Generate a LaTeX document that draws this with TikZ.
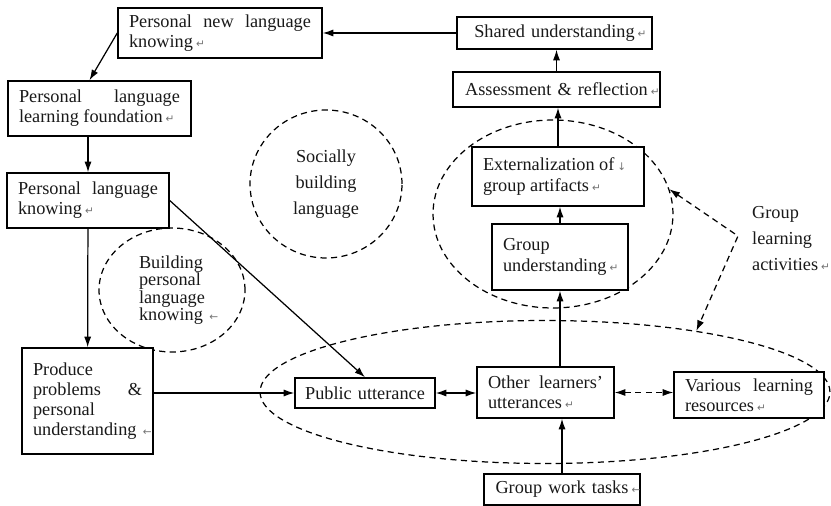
\documentclass[tikz,border=0pt]{standalone}
\usepackage{fontspec}
\setmainfont{Liberation Serif}
\newfontfamily\markfont{DejaVu Sans}
\usetikzlibrary{arrows.meta,shapes.geometric}
\hyphenpenalty=10000
\exhyphenpenalty=10000
\tolerance=10000
\hbadness=10000
\newcommand{\pmark}[1]{\rlap{\,{\markfont\fontsize{6}{6}\selectfont\color{black!55}#1}}}
\tikzset{
  every node/.style={font=\fontsize{10.4}{11.5}\selectfont, text=black!90},
  box/.style 2 args={draw, line width=0.85pt, fill=white, align=justify, inner xsep=0.22cm, inner ysep=0pt, text width=#1, minimum height=#2},
  arr/.style={-{Latex[length=6pt,width=4pt]}, line width=0.7pt},
  dbl/.style={{Latex[length=6pt,width=4pt]}-{Latex[length=6pt,width=4pt]}, line width=0.7pt},
  dline/.style={line width=0.7pt, dash pattern=on 3.5pt off 2.5pt},
  zone/.style={ellipse, draw, dline, inner sep=0pt}
}

\begin{document}
\begin{tikzpicture}[x=0.02cm,y=-0.02cm]
\useasboundingbox (0,0) rectangle (831,506);

\node[zone, minimum width=11.4cm, minimum height=2.86cm] (uell) at (545,392) {};
\node[zone, minimum width=4.8cm, minimum height=3.76cm] (gell) at (553,214) {};
\node[zone, minimum width=3.04cm, minimum height=2.96cm, align=center, font=\fontsize{10.4}{14.7}\selectfont] (social) at (326,184) {Socially\\building\\language};
\node[zone, minimum width=2.92cm, minimum height=2.48cm, align=left, font=\fontsize{10.4}{10}\selectfont] (buildp) at (172,290) {Building\\personal\\language\\knowing\pmark{~←}};

\node[box={3.64cm}{1.0cm}] (pnew) at (220,33) {Personal new language knowing\pmark{↵}};
\node[box={3.46cm}{0.64cm}, align=center] (shared) at (554.5,33) {Shared understanding\pmark{↵}};
\node[box={3.70cm}{0.70cm}, align=center] (assess) at (556.5,89.5) {Assessment \& reflection\pmark{↵}};
\node[box={3.22cm}{1.1cm}] (found) at (99.5,108.5) {Personal language learning foundation\pmark{↵}};
\node[box={2.80cm}{1.1cm}] (pknow) at (88,200.5) {Personal language knowing\pmark{↵}};
\node[box={3.0cm}{1.18cm}] (ext) at (558,176.5) {Externalization of\pmark{↓}\\group artifacts\pmark{↵}};
\node[box={2.28cm}{1.32cm}] (gund) at (560,257) {Group understanding\pmark{↵}};
\node[box={2.18cm}{2.12cm}] (produce) at (87.5,401) {Produce\\problems\hfill\&\\personal\\understanding\pmark{~←}};
\node[box={2.46cm}{0.6cm}, inner xsep=0.17cm, align=center] (public) at (365,393) {Public utterance};
\node[box={2.30cm}{1.02cm}] (others) at (545.5,392.5) {Other learners' utterances\pmark{↵}};
\node[box={2.56cm}{0.92cm}] (various) at (749,395) {Various learning resources\pmark{↵}};
\node[box={2.68cm}{0.62cm}, align=center] (tasks) at (562,489.5) {Group work tasks\pmark{←}};
\node[align=left, font=\fontsize{10.4}{14.7}\selectfont, anchor=west] (glabel) at (746,238.5) {Group\\learning\\activities\pmark{↵}};
\coordinate (bend) at (738,236);

\draw[arr] (shared) -- (pnew);
\draw[arr] (pnew.west) -- ([xshift=-0.2cm]found.north);
\draw[arr] (found.south -| pknow.north) -- (pknow.north);
\draw[arr] (pknow) -- (produce);
\draw[arr] (pknow.east) -- (public.north);
\draw[arr] (produce.east |- public.west) -- (public.west);
\draw[dbl] (public.east) -- (public.east -| others.west);
\draw[dbl, dline] (others.east) -- (others.east -| various.west);
\draw[arr] (tasks.north) -- (tasks.north |- others.south);
\draw[arr] (gund.south |- others.north) -- (gund.south);
\draw[arr] (gund.north) -- (gund.north |- ext.south);
\draw[arr] (ext.north) -- (ext.north |- assess.south);
\draw[arr] (assess.north) -- (assess.north |- shared.south);
\draw[dbl, dline] (gell.12) -- (bend) -- (uell.22);
\end{tikzpicture}
\end{document}
